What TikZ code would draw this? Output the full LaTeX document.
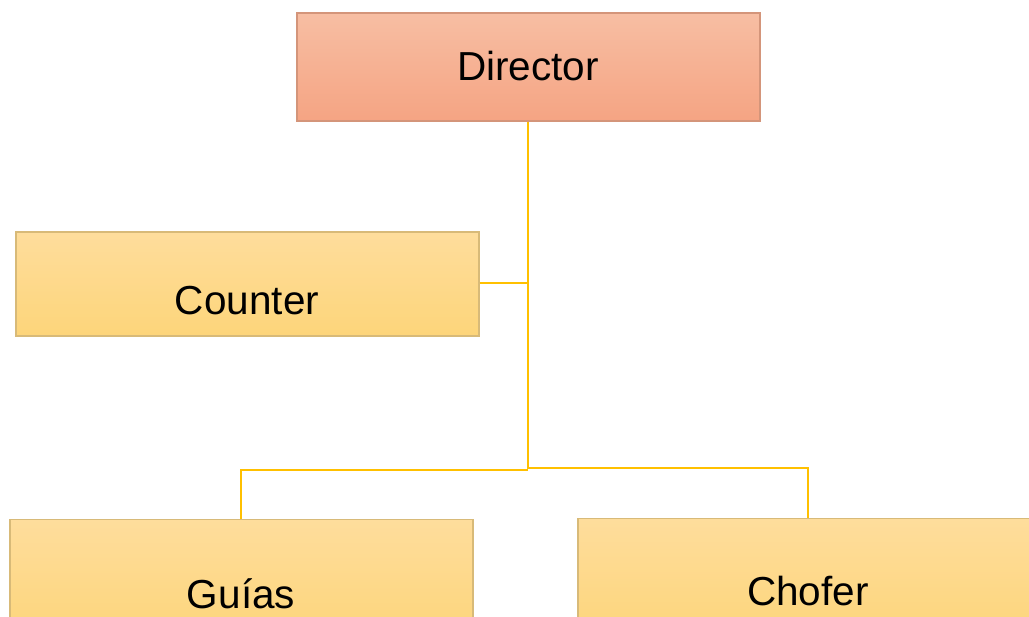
\documentclass[tikz,border=0pt]{standalone}
\usepackage{fontspec}
\setmainfont{Liberation Sans}
\definecolor{lineY}{HTML}{FFC000}
\definecolor{dirTop}{HTML}{F7BEA3}
\definecolor{dirBot}{HTML}{F5A483}
\definecolor{dirBorder}{HTML}{D4957A}
\definecolor{yTop}{HTML}{FEDD9C}
\definecolor{yBot}{HTML}{FDD57A}
\definecolor{yBorder}{HTML}{D8BA78}
\tikzset{
  dirbox/.style={draw=dirBorder, line width=1.2pt, top color=dirTop, bottom color=dirBot, rectangle, inner sep=0pt},
  ybox/.style={draw=yBorder, line width=1.2pt, top color=yTop, bottom color=yBot, rectangle, inner sep=0pt},
  lbl/.style={font=\fontsize{40.5}{48}\selectfont, inner sep=0pt},
  conn/.style={draw=lineY, line width=2.2pt}
}
\begin{document}
\begin{tikzpicture}[x=1pt,y=-1pt]
\useasboundingbox (0,0) rectangle (1029,617);
\clip (0,0) rectangle (1029,617);
% boxes
\node[dirbox, minimum width=463pt, minimum height=108pt] (dir) at (528.5,67) {};
\node[lbl] (dirl) at (528,66) {Director};
\node[ybox, minimum width=463pt, minimum height=104pt] (cnt) at (247.5,284) {};
\node[lbl] (cntl) at (247,301) {Counter};
\node[ybox, minimum width=463pt, minimum height=120pt, anchor=north] (gui) at (241.5,519) {};
\node[lbl] (guil) at (241,594) {Guías};
\node[ybox, minimum width=463pt, minimum height=120pt, anchor=north] (cho) at (809.5,518) {};
\node[lbl] (chol) at (808,591) {Chofer};
% junctions
\coordinate (j1) at (528,283);
\coordinate (j2) at (528,469);
\coordinate (gl) at (241,470);
\coordinate (gr) at (808,468);
% connectors
\draw[conn] (dir.south -| j2) -- (j2);
\draw[conn] (cnt.east |- j1) -- (j1);
\draw[conn] (j2 |- gl) -- (gl) -- (gui.north -| gl);
\draw[conn] (j2 |- gr) -- (gr) -- (cho.north -| gr);
\end{tikzpicture}
\end{document}
